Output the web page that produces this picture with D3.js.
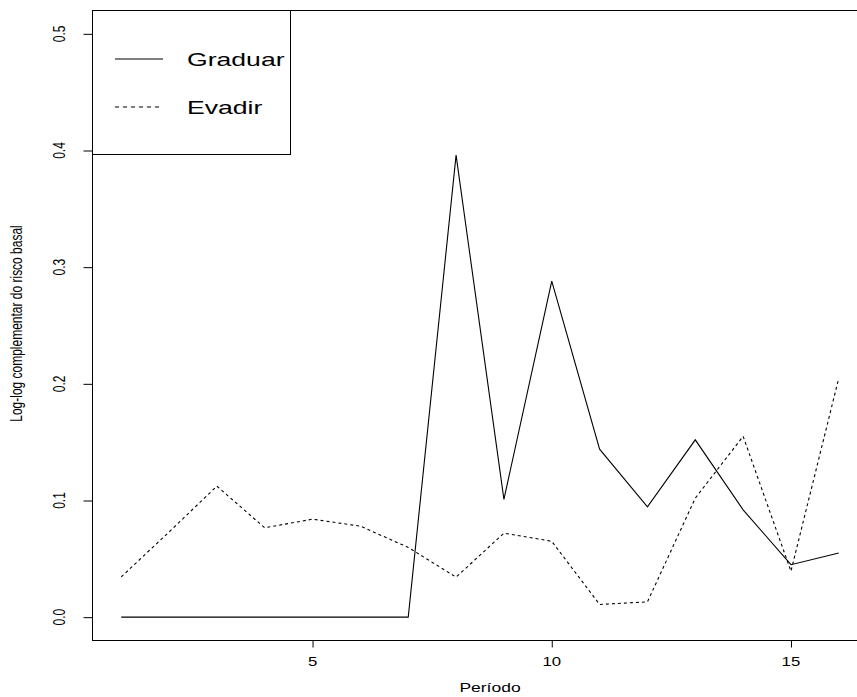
<!DOCTYPE html>
<html>
<head>
<meta charset="utf-8">
<script src="https://cdn.jsdelivr.net/npm/d3@7"></script>
<style>
  html, body { margin: 0; padding: 0; background: #ffffff; }
  svg { display: block; }
  text { font-family: "Liberation Sans", Arial, Helvetica, sans-serif; fill: #000; }
</style>
</head>
<body>
<script>
// Baseline hazard (complementary log-log) per period, two outcomes
const periods = [1, 2, 3, 4, 5, 6, 7, 8, 9, 10, 11, 12, 13, 14, 15, 16];
const graduar = [0, 0, 0, 0, 0, 0, 0, 0.396, 0.101, 0.288, 0.144, 0.0946, 0.152, 0.092, 0.045, 0.055];
const evadir  = [0.0345, 0.073, 0.1123, 0.0766, 0.084, 0.078, 0.0598, 0.0343, 0.072, 0.065, 0.0109, 0.0131, 0.102, 0.155, 0.0394, 0.205];
const xTicks = [5, 10, 15];
const yTicks = [0, 0.1, 0.2, 0.3, 0.4, 0.5];
const seriesNames = ["Graduar", "Evadir"];
const xLabel = "Período";
const yLabel = "Log-log complementar do risco basal";

const W = 857, H = 697;
const plot = { left: 92.5, right: 867.5, top: 10.5, bottom: 640.5 };
const stretch = 1.4; // horizontal text stretch

const svg = d3.select("body").append("svg").attr("width", W).attr("height", H);

// R-style axis ranges: data range padded by 4% on each side
const xExt = d3.extent(periods), xPad = (xExt[1] - xExt[0]) * 0.04;
const x = d3.scaleLinear().domain([xExt[0] - xPad, xExt[1] + xPad]).range([plot.left, plot.right]);
const y = d3.scaleLinear().domain([-0.02, 0.52]).range([plot.bottom, plot.top]);

// plot frame
svg.append("rect")
  .attr("x", plot.left).attr("y", plot.top)
  .attr("width", plot.right - plot.left).attr("height", plot.bottom - plot.top)
  .attr("fill", "none").attr("stroke", "#000").attr("stroke-width", 1);

// x axis
const xAxis = svg.append("g").attr("transform", `translate(0,${plot.bottom})`)
  .call(d3.axisBottom(x).tickValues(xTicks).tickSize(7).tickSizeOuter(0).tickFormat(d3.format("d")));
xAxis.select(".domain").remove();
xAxis.selectAll("line").attr("stroke", "#000");
xAxis.selectAll("text").remove();
xTicks.forEach(t => {
  svg.append("text")
    .attr("transform", `translate(${x(t)},${666}) scale(${stretch},1)`)
    .attr("text-anchor", "middle").attr("font-size", 12).text(d3.format("d")(t));
});

// y axis
const yAxis = svg.append("g").attr("transform", `translate(${plot.left},0)`)
  .call(d3.axisLeft(y).tickValues(yTicks).tickSize(9).tickSizeOuter(0).tickFormat(d3.format(".1f")));
yAxis.select(".domain").remove();
yAxis.selectAll("line").attr("stroke", "#000");
yAxis.selectAll("text").remove();
yTicks.forEach(t => {
  svg.append("text")
    .attr("transform", `translate(${65},${y(t)}) scale(${stretch},1) rotate(-90)`)
    .attr("text-anchor", "middle").attr("font-size", 12).text(d3.format(".1f")(t));
});

// axis titles
svg.append("text")
  .attr("transform", `translate(${490},${692}) scale(${stretch},1)`)
  .attr("text-anchor", "middle").attr("font-size", 12.5).text(xLabel);
svg.append("text")
  .attr("transform", `translate(${22},${y(0.25) - 2}) scale(${stretch},1) rotate(-90)`)
  .attr("text-anchor", "middle").attr("font-size", 12).text(yLabel);

// series lines
const line = d3.line().x((d, i) => x(periods[i])).y(d => y(d));
svg.append("path").datum(graduar).attr("d", line)
  .attr("fill", "none").attr("stroke", "#000").attr("stroke-width", 1.1);
svg.append("path").datum(evadir).attr("d", line)
  .attr("fill", "none").attr("stroke", "#000").attr("stroke-width", 1.1)
  .attr("stroke-dasharray", "3,3");

// legend
const legBox = { left: plot.left, top: plot.top, right: 290.5, bottom: 154.5 };
svg.append("rect")
  .attr("x", legBox.left).attr("y", legBox.top)
  .attr("width", legBox.right - legBox.left).attr("height", legBox.bottom - legBox.top)
  .attr("fill", "#fff").attr("stroke", "#000").attr("stroke-width", 1);
const legRows = [59, 107];
seriesNames.forEach((name, i) => {
  svg.append("line")
    .attr("x1", 115).attr("x2", 163).attr("y1", legRows[i]).attr("y2", legRows[i])
    .attr("stroke", "#000").attr("stroke-width", 1.1)
    .attr("stroke-dasharray", i === 1 ? "4,4" : null);
  svg.append("text")
    .attr("transform", `translate(${187},${legRows[i] + 7}) scale(${stretch},1)`)
    .attr("font-size", 19).text(name);
});
</script>
</body>
</html>
